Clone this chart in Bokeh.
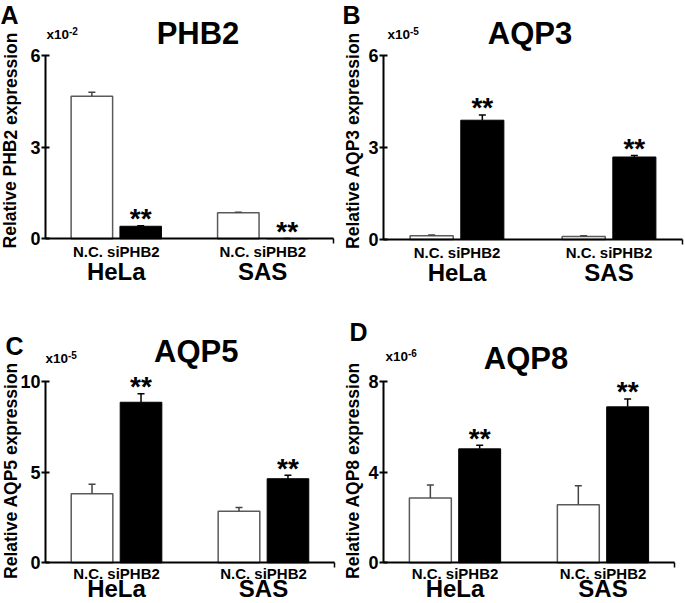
from bokeh.plotting import figure
from bokeh.models import Range1d, FixedTicker, Label, LinearAxis
from bokeh.layouts import gridplot
from bokeh.core.properties import value
from bokeh.embed import file_html
from bokeh.resources import INLINE

FONT = "Liberation Sans"

# ---------------- data ----------------
cell_lines = ["HeLa", "SAS"]
treatments = ["N.C.", "siPHB2"]
genes = ["PHB2", "AQP3", "AQP5", "AQP8"]
panel_letters = ["A", "B", "C", "D"]
exponents = ["-2", "-5", "-5", "-6"]
y_max = [6, 6, 10, 8]
y_ticks_phb2 = [0, 3, 6]
y_ticks_aqp3 = [0, 3, 6]
y_ticks_aqp5 = [0, 5, 10]
y_ticks_aqp8 = [0, 4, 8]

phb2_nc = [4.67, 0.85]
phb2_nc_err = [0.13, 0.02]
phb2_si = [0.41, 0.01]
phb2_si_err = [0.02, 0.0]

aqp3_nc = [0.12, 0.10]
aqp3_nc_err = [0.03, 0.02]
aqp3_si = [3.89, 2.69]
aqp3_si_err = [0.17, 0.05]

aqp5_nc = [3.80, 2.84]
aqp5_nc_err = [0.53, 0.20]
aqp5_si = [8.84, 4.63]
aqp5_si_err = [0.47, 0.19]

aqp8_nc = [2.86, 2.56]
aqp8_nc_err = [0.57, 0.83]
aqp8_si = [5.02, 6.87]
aqp8_si_err = [0.16, 0.35]

significance = ["**", "**"]

# category -> position on the x scale (one slot gap between cell lines)
stride = len(treatments) + 1
bar_pos = {(c, t): gi * stride + ti + 1 for gi, c in enumerate(cell_lines)
           for ti, t in enumerate(treatments)}
group_pos = {c: gi * stride + (len(treatments) + 1) / 2 for gi, c in enumerate(cell_lines)}
AX0, AX1 = 0.05, 5.95   # extent of the x axis line


def make_panel(idx, ticks, nc, nc_err, si, si_err, fig, axis, lab, std):
    ox, oy, W, H = fig
    X0, X1, Yt, Y0 = axis
    ymax = y_max[idx]
    kx = (X1 - X0) / (AX1 - AX0)
    xs = AX0 - (X0 - ox) / kx
    xe = AX1 + (ox + W - X1) / kx
    ky = (Y0 - Yt) / ymax
    ys = -(oy + H - Y0) / ky
    ye = ymax + (Yt - oy) / ky

    def dx(px):
        return xs + (px - ox) / kx

    def dy(py):
        return ye - (py - oy) / ky

    p = figure(width=W, height=H, x_range=Range1d(xs, xe), y_range=Range1d(ys, ye),
               x_axis_type=None, y_axis_type=None, title=None,
               output_backend="svg", toolbar_location=None,
               min_border=0, min_border_left=0, min_border_right=0,
               min_border_top=0, min_border_bottom=0)
    p.outline_line_color = None
    p.background_fill_color = "white"
    p.border_fill_color = "white"
    p.xgrid.visible = False
    p.ygrid.visible = False

    nc_x = [bar_pos[(c, treatments[0])] for c in cell_lines]
    si_x = [bar_pos[(c, treatments[1])] for c in cell_lines]
    nc_up = [v + e for v, e in zip(nc, nc_err)]
    si_up = [v + e for v, e in zip(si, si_err)]

    p.vbar(x=nc_x, top=nc, width=0.85, bottom=0, fill_color="white",
           line_color="#5a5a5a", line_width=1.5)
    p.vbar(x=si_x, top=si, width=0.85, bottom=0, fill_color="black",
           line_color="black", line_width=1)
    p.segment(x0=nc_x, y0=nc, x1=nc_x, y1=nc_up, line_color="#444444", line_width=1.5)
    p.scatter(x=nc_x, y=nc_up, marker="dash", size=7, line_color="#444444", line_width=1.5)
    p.segment(x0=si_x, y0=si, x1=si_x, y1=si_up, line_color="black", line_width=1.5)
    p.scatter(x=si_x, y=si_up, marker="dash", size=7, line_color="black", line_width=1.5)
    p.text(x=si_x, y=si_up, text=significance, text_font=value(FONT),
           text_font_style="bold", text_font_size="28px", text_align="center",
           text_baseline="middle", y_offset=-7, text_color="black")

    # y axis
    ya = LinearAxis(fixed_location=AX0, bounds=(0, ymax), ticker=FixedTicker(ticks=ticks))
    ya.axis_line_width = 2
    ya.axis_line_color = "black"
    ya.major_tick_line_width = 2
    ya.major_tick_line_color = "black"
    ya.major_tick_out = 4
    ya.major_tick_in = 4
    ya.minor_tick_line_color = None
    ya.major_label_standoff = 1
    ya.major_label_text_font = FONT
    ya.major_label_text_font_style = "bold"
    ya.major_label_text_font_size = "18px"
    ya.major_label_text_color = "black"
    p.add_layout(ya, "left")

    # x axis, with the treatment names written as one line under each cell line
    xa = LinearAxis(fixed_location=0, bounds=(AX0, AX1),
                    ticker=FixedTicker(ticks=list(group_pos.values())))
    xa.major_label_overrides = {v: " ".join(treatments) for v in group_pos.values()}
    xa.axis_line_width = 2
    xa.axis_line_color = "black"
    xa.major_tick_line_color = None
    xa.minor_tick_line_color = None
    xa.major_tick_out = 0
    xa.major_tick_in = 0
    xa.major_label_standoff = std[0]
    xa.major_label_text_font = FONT
    xa.major_label_text_font_style = "bold"
    xa.major_label_text_font_size = "15px"
    xa.major_label_text_color = "black"
    p.add_layout(xa, "below")

    # cell line labels
    ga = LinearAxis(fixed_location=0, ticker=FixedTicker(ticks=list(group_pos.values())))
    ga.major_label_overrides = {v: k for k, v in group_pos.items()}
    ga.axis_line_color = None
    ga.major_tick_line_color = None
    ga.minor_tick_line_color = None
    ga.major_tick_out = 0
    ga.major_tick_in = 0
    ga.major_label_standoff = std[1]
    ga.major_label_text_font = FONT
    ga.major_label_text_font_style = "bold"
    ga.major_label_text_font_size = "24px"
    ga.major_label_text_color = "black"
    p.add_layout(ga, "below")

    # small end tick of the x axis
    ea = LinearAxis(fixed_location=0, ticker=FixedTicker(ticks=[AX1]))
    ea.axis_line_color = None
    ea.minor_tick_line_color = None
    ea.major_tick_out = 5
    ea.major_tick_in = 0
    ea.major_tick_line_width = 1.5
    ea.major_tick_line_color = "black"
    ea.major_label_text_color = None
    p.add_layout(ea, "below")

    def add_label(text, px, py, size, align="left", angle=0.0):
        p.add_layout(Label(text=text, x=dx(px), y=dy(py),
                           text_font=FONT, text_font_style="bold", text_font_size=size,
                           text_align=align, text_baseline="middle", angle=angle,
                           text_color="black"))

    add_label(panel_letters[idx], lab["letter"][0], lab["letter"][1], "25px")
    add_label("Relative " + genes[idx] + " expression", lab["ylab"][0], lab["ylab"][1],
              "17.5px", align="center", angle=1.5707963)
    add_label("x10", lab["x10"][0], lab["x10"][1], "13.5px")
    add_label(exponents[idx], lab["x10"][0] + 22.5, lab["x10"][1] - 4, "10px")
    add_label(genes[idx], lab["title"][0], lab["title"][1], "31px", align="center")
    return p


figA = (0, 0, 342, 300)
figB = (342, 0, 342, 300)
figC = (0, 300, 342, 302)
figD = (342, 300, 342, 302)

axA = (45, 333, 55, 238.3)
axB = (383, 682, 55, 239)
axC = (45, 334, 380.7, 562.3)
axD = (383, 674, 380.7, 562.3)

labA = dict(letter=(0, 14.5), ylab=(10, 140), x10=(46, 34), title=(197.5, 32.5))
labB = dict(letter=(342, 14.5), ylab=(352, 140), x10=(387, 34), title=(529.5, 33.3))
labC = dict(letter=(5, 345), ylab=(10.5, 470), x10=(45, 358), title=(195.7, 351))
labD = dict(letter=(349, 331.5), ylab=(352.5, 470), x10=(385, 356), title=(525.5, 358))

pA = make_panel(0, y_ticks_phb2, phb2_nc, phb2_nc_err, phb2_si, phb2_si_err, figA, axA, labA, (4, 19))
pB = make_panel(1, y_ticks_aqp3, aqp3_nc, aqp3_nc_err, aqp3_si, aqp3_si_err, figB, axB, labB, (4, 19))
pC = make_panel(2, y_ticks_aqp5, aqp5_nc, aqp5_nc_err, aqp5_si, aqp5_si_err, figC, axC, labC, (2, 12))
pD = make_panel(3, y_ticks_aqp8, aqp8_nc, aqp8_nc_err, aqp8_si, aqp8_si_err, figD, axD, labD, (2, 12))

grid = gridplot([[pA, pB], [pC, pD]], toolbar_location=None)

open("out.html", "w").write(file_html(grid, INLINE))
